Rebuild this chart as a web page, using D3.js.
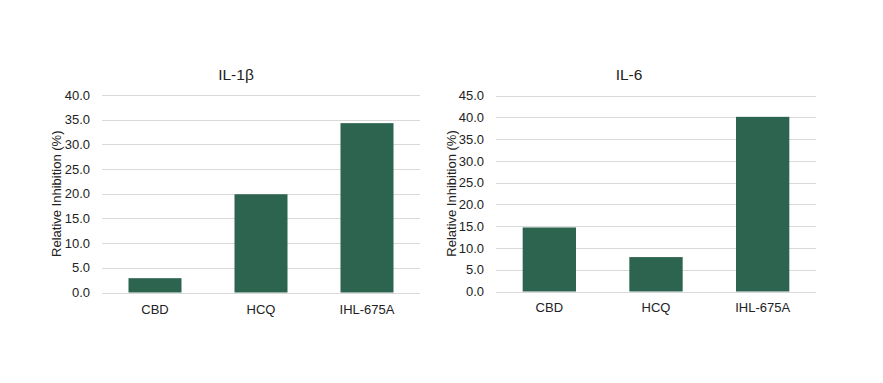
<!DOCTYPE html>
<html><head><meta charset="utf-8">
<script src="https://cdn.jsdelivr.net/npm/d3@7/dist/d3.min.js"></script>
<style>
body{margin:0;background:#fff;}
svg{font-family:"Liberation Sans",Arial,sans-serif;}
</style></head>
<body>
<svg id="c" width="883" height="383"></svg>
<script>
const categories = ["CBD", "HCQ", "IHL-675A"];
const il1bValues = [2.9, 19.9, 34.3];
const il6Values = [14.7, 7.9, 40.1];
const il1bTicks = [0, 5, 10, 15, 20, 25, 30, 35, 40];
const il6Ticks = [0, 5, 10, 15, 20, 25, 30, 35, 40, 45];
const titles = ["IL-1β", "IL-6"];
const yLabel = "Relative Inhibition (%)";

const svg = d3.select("#c");
const barColor = "#2d6450";

function panel(cfg){
  const g = svg.append("g");
  const x = d3.scaleBand().domain(categories).range([cfg.x0, cfg.x1]).paddingInner(0.5).paddingOuter(0.25);
  const y = d3.scaleLinear().domain([0, d3.max(cfg.ticks)]).range([cfg.y0, cfg.y1]);
  g.selectAll("line.grid").data(cfg.ticks).join("line")
    .attr("x1", cfg.x0).attr("x2", cfg.x1)
    .attr("y1", d => Math.round(y(d)) + 0.5).attr("y2", d => Math.round(y(d)) + 0.5)
    .attr("stroke", "#d9d9d9").attr("stroke-width", 1);
  g.selectAll("rect").data(cfg.values).join("rect")
    .attr("x", (d,i) => x(categories[i]))
    .attr("width", x.bandwidth())
    .attr("y", d => y(d))
    .attr("height", d => y(0) - y(d))
    .attr("fill", barColor);
  const ya = d3.axisLeft(y).tickValues(cfg.ticks).tickFormat(d3.format(".1f")).tickSize(0).tickPadding(0);
  const yg = g.append("g").attr("transform", `translate(${cfg.x0 - 12},0)`).call(ya);
  yg.select(".domain").remove();
  yg.selectAll("text").attr("font-size", 13).attr("fill", "#222").attr("font-family", "Liberation Sans, Arial, sans-serif");
  const xa = d3.axisBottom(x).tickSize(0).tickPadding(0);
  const xg = g.append("g").attr("transform", `translate(0,${cfg.y0 + cfg.xoff})`).call(xa);
  xg.select(".domain").remove();
  xg.selectAll("text").attr("font-size", 13).attr("fill", "#222").attr("font-family", "Liberation Sans, Arial, sans-serif");
  g.append("text").attr("x", cfg.tx).attr("y", 80).attr("text-anchor", "middle")
    .attr("font-size", 15.5).attr("fill", "#222").text(cfg.title);
  g.append("text").attr("transform", `translate(${cfg.lx},${(cfg.y0 + cfg.y1)/2}) rotate(-90)`)
    .attr("text-anchor", "middle").attr("font-size", 13).attr("fill", "#222").text(yLabel);
}

panel({x0:102, x1:420, y0:292.5, y1:95, ticks:il1bTicks, values:il1bValues, title:titles[0], tx:236, lx:61, xoff:12});
panel({x0:496, x1:816, y0:291.5, y1:95.5, ticks:il6Ticks, values:il6Values, title:titles[1], tx:629, lx:456, xoff:11.5});
</script>
</body></html>
